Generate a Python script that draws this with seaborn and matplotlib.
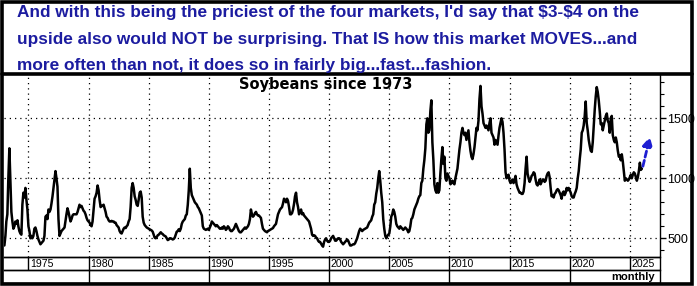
import numpy as np
import pandas as pd
import matplotlib
matplotlib.use("Agg")
import matplotlib.pyplot as plt
import matplotlib.transforms as mtransforms
from matplotlib.patches import Rectangle
from matplotlib.lines import Line2D
import seaborn as sns

# ---------------- data (monthly soybean prices, cents/bushel) ----------------
start_month = "1973-01-01"

prices_1970s = [
    440, 520, 640, 700, 1000, 1250, 980, 720, 640, 580, 600, 640,      # 1973
    620, 650, 600, 560, 540, 530, 780, 880, 840, 920, 820, 740,        # 1974
    600, 560, 500, 520, 500, 520, 580, 590, 560, 520, 490, 470,        # 1975
    450, 460, 470, 480, 520, 680, 690, 660, 740, 720, 740, 790,        # 1976
    850, 920, 990, 1060, 1000, 930, 660, 520, 540, 560, 570, 580,      # 1977
    590, 650, 700, 750, 720, 680, 640, 660, 690, 700, 700, 700,        # 1978
    700, 720, 750, 780, 760, 770, 750, 730, 720, 700, 670, 650,        # 1979
]
prices_1980s = [
    640, 630, 610, 600, 640, 740, 830, 850, 880, 940, 900, 820,        # 1980
    760, 770, 770, 780, 750, 720, 680, 670, 650, 640, 640, 645,        # 1981
    640, 640, 630, 630, 610, 600, 590, 560, 545, 540, 560, 580,        # 1982
    590, 585, 600, 610, 640, 660, 760, 920, 960, 920, 850, 820,        # 1983
    780, 770, 820, 880, 890, 840, 680, 630, 610, 600, 590, 585,        # 1984
    580, 575, 570, 565, 555, 530, 505, 500, 510, 525, 530, 540,        # 1985
    550, 540, 535, 525, 520, 515, 500, 485, 490, 500, 500, 495,        # 1986
    490, 495, 505, 530, 555, 560, 575, 560, 580, 620, 640, 650,        # 1987
    660, 690, 700, 780, 900, 1080, 920, 860, 840, 820, 800, 790,       # 1988
    780, 760, 750, 730, 710, 690, 600, 580, 575, 570, 575, 580,        # 1989
]
prices_1990s = [
    570, 590, 610, 640, 630, 620, 610, 600, 610, 600, 590, 580,        # 1990
    580, 590, 580, 600, 590, 570, 580, 600, 590, 570, 560, 560,        # 1991
    570, 580, 600, 620, 600, 580, 560, 550, 550, 560, 570, 580,        # 1992
    590, 580, 590, 600, 620, 660, 740, 700, 680, 690, 710, 720,        # 1993
    700, 690, 690, 680, 670, 620, 580, 570, 560, 555, 550, 560,        # 1994
    565, 570, 575, 580, 585, 600, 610, 620, 660, 700, 720, 740,        # 1995
    750, 760, 790, 830, 820, 800, 830, 810, 760, 700, 700, 710,        # 1996
    740, 790, 850, 880, 800, 760, 700, 720, 740, 700, 710, 690,        # 1997
    680, 670, 660, 650, 640, 610, 580, 530, 520, 525, 520, 505,        # 1998
    500, 480, 470, 470, 455, 440, 430, 470, 490, 500, 480, 470,        # 1999
]
prices_2000s = [
    470, 480, 500, 510, 520, 500, 480, 480, 490, 500, 500, 490,        # 2000
    470, 460, 450, 460, 470, 480, 490, 480, 460, 440, 440, 445,        # 2001
    450, 450, 460, 480, 500, 530, 560, 580, 570, 560, 570, 575,        # 2002
    580, 585, 590, 610, 630, 640, 650, 680, 700, 780, 800, 870,        # 2003
    920, 1000, 1060, 980, 880, 800, 660, 580, 520, 500, 520, 530,      # 2004
    540, 600, 680, 700, 740, 720, 680, 620, 600, 590, 580, 600,        # 2005
    590, 580, 570, 580, 590, 580, 570, 550, 560, 600, 660, 670,        # 2006
    700, 740, 760, 780, 800, 830, 850, 860, 960, 980, 1080, 1150,      # 2007
    1250, 1450, 1500, 1380, 1400, 1560, 1650, 1300, 1150, 950, 900, 880,  # 2008
    960, 880, 900, 1040, 1160, 1260, 1120, 1180, 1000, 980, 1040, 1020,   # 2009
]
prices_2010s = [
    1000, 950, 960, 980, 960, 950, 1000, 1040, 1080, 1160, 1240, 1300,    # 2010
    1380, 1420, 1380, 1360, 1380, 1320, 1360, 1400, 1300, 1230, 1180, 1160,  # 2011
    1200, 1260, 1340, 1420, 1400, 1480, 1660, 1770, 1600, 1540, 1460, 1440,  # 2012
    1420, 1440, 1420, 1400, 1460, 1500, 1380, 1360, 1340, 1280, 1320, 1300,  # 2013
    1280, 1360, 1420, 1460, 1500, 1470, 1380, 1240, 1050, 1000, 1020, 1030,  # 2014
    980, 960, 970, 990, 960, 980, 1020, 950, 920, 900, 880, 880,          # 2015
    870, 870, 890, 960, 1080, 1180, 1040, 1000, 970, 990, 1020, 1030,     # 2016
    1050, 1040, 990, 950, 940, 960, 990, 950, 970, 990, 990, 970,         # 2017
    980, 1020, 1040, 1050, 1010, 920, 850, 860, 840, 870, 880, 900,       # 2018
    910, 900, 880, 860, 830, 880, 890, 860, 880, 920, 900, 920,           # 2019
]
prices_2020s = [
    900, 880, 850, 840, 840, 870, 890, 920, 1000, 1060, 1160, 1240,       # 2020
    1380, 1400, 1440, 1520, 1640, 1460, 1400, 1320, 1270, 1230, 1220, 1300,  # 2021
    1440, 1580, 1680, 1760, 1720, 1650, 1560, 1450, 1460, 1400, 1440, 1480,  # 2022
    1520, 1540, 1480, 1460, 1380, 1500, 1520, 1360, 1320, 1300, 1340, 1300,  # 2023
    1230, 1180, 1190, 1150, 1200, 1140, 1060, 980, 1000, 990, 980, 990,   # 2024
    1010, 1030, 1000, 1030, 1050, 1040, 1010, 980, 1010, 1060, 1130, 1070,  # 2025
    1080,                                                                  # 2026
]

band_years = [1975, 1980, 1985, 1990, 1995, 2000, 2005, 2010, 2015, 2020, 2025]
decade_years = [1980, 1990, 2000, 2010, 2020]
y_major = [500, 1000, 1500]
y_minor = [400, 600, 700, 800, 900, 1100, 1200, 1300, 1400, 1600, 1700, 1800]
chart_title = "Soybeans since 1973"
frequency_label = "monthly"
note_lines = [
    "And with this being the priciest of the four markets, I'd say that $3-$4 on the",
    "upside also would NOT be surprising. That IS how this market MOVES...and",
    "more often than not, it does so in fairly big...fast...fashion.",
]
arrow_start = ("2026-02-01", 1100)
arrow_end = ("2026-09-01", 1345)

# ---------------- style ----------------
sns.set_style("white")
plt.rcParams["font.family"] = ["Liberation Sans", "DejaVu Sans"]
NOTE_BLUE = "#1c1ca0"
ARROW_BLUE = "#1e1ed2"

W, H = 697, 286
fig = plt.figure(figsize=(W / 100, H / 100), dpi=100)
fig.patch.set_facecolor("white")


def fx(px):
    return px / W


def fy(py):
    return 1 - py / H


values = prices_1970s + prices_1980s + prices_1990s + prices_2000s + prices_2010s + prices_2020s
dates = pd.date_range(start_month, periods=len(values), freq="MS")
df = pd.DataFrame({"date": dates, "price": values})

L, R, T, B = 4, 659.5, 75, 257
xlim = (pd.Timestamp("1972-12-20"), pd.Timestamp("2027-06-20"))

ax = fig.add_axes([fx(L), fy(B), fx(R) - fx(L), fy(T) - fy(B)])
sns.lineplot(data=df, x="date", y="price", ax=ax, color="black", linewidth=1.8)
ax.set_xlim(*xlim)
ax.set_ylim(344, 1861)
ax.set_xlabel("")
ax.set_ylabel("")
ax.set_xticks([])
ax.yaxis.tick_right()
ax.set_yticks(y_major)
ax.set_yticks(y_minor, minor=True)
ax.tick_params(axis="y", which="major", right=True, left=False, length=4, width=1,
               pad=1.5, labelsize=9, direction="out", colors="black")
ax.tick_params(axis="y", which="minor", right=True, left=False, length=3, width=0.8,
               direction="out", colors="black")
for v in y_major:
    ax.axhline(v, color="black", lw=0.9, ls=(0, (1, 3.2)), zorder=0)
for yr in band_years:
    ax.axvline(pd.Timestamp(f"{yr}-01-01"), color="black", lw=0.9, ls=(0, (1, 3.2)), zorder=0)
for s in ["left", "top"]:
    ax.spines[s].set_visible(False)
for s in ["right", "bottom"]:
    ax.spines[s].set_linewidth(1.0)
    ax.spines[s].set_color("black")

ax.annotate("", xy=(pd.Timestamp(arrow_end[0]), arrow_end[1]),
            xytext=(pd.Timestamp(arrow_start[0]), arrow_start[1]),
            arrowprops=dict(arrowstyle="-|>,head_length=0.55,head_width=0.3",
                            color=ARROW_BLUE, lw=2.0, linestyle=(0, (2.2, 1.2)),
                            shrinkA=0, shrinkB=0),
            annotation_clip=False)

# year band
band1 = fig.add_axes([fx(L), fy(270), fx(R) - fx(L), fy(257) - fy(270)])
band2 = fig.add_axes([fx(L), fy(283), fx(R) - fx(L), fy(270) - fy(283)])
for b in (band1, band2):
    b.set_xlim(*xlim)
    b.set_ylim(0, 1)
    b.set_xticks([])
    b.set_yticks([])
    b.spines["left"].set_visible(False)
    for s in ["right", "bottom", "top"]:
        b.spines[s].set_linewidth(1.0)
        b.spines[s].set_color("black")
    b.patch.set_alpha(0)

off = mtransforms.offset_copy(band1.transData, fig=fig, x=1.5, y=0, units="dots")
for yr in band_years:
    d = pd.Timestamp(f"{yr}-01-01")
    band1.axvline(d, color="black", lw=1.0)
    band1.text(d, 0.45, str(yr), transform=off, ha="left", va="center",
               fontsize=7.6, color="black")
for yr in decade_years:
    band2.axvline(pd.Timestamp(f"{yr}-01-01"), color="black", lw=1.0)
band2.text(0.993, 0.45, frequency_label, transform=band2.transAxes, ha="right",
           va="center", fontsize=8, fontweight="bold", color="black")

# title
fig.text(fx(326), fy(84.5), chart_title, ha="center", va="center", fontsize=10.5,
         fontweight="bold", family=["DejaVu Sans"], color="black")

# note text (dollar signs kept literal)
baselines = [17.5, 44, 70]
for line, by in zip(note_lines, baselines):
    fig.text(fx(17), fy(by), line, ha="left", va="baseline", fontsize=12.4,
             fontweight="bold", color=NOTE_BLUE, parse_math=False)

# frame
fig.add_artist(Rectangle((fx(2), fy(283.5)), fx(692) - fx(2), fy(2) - fy(283.5),
                         transform=fig.transFigure, fill=False, ec="black", lw=2.6))
fig.add_artist(Line2D([fx(2), fx(692)], [fy(73.5), fy(73.5)], transform=fig.transFigure,
                      color="black", lw=2.6))

fig.savefig("out.png", dpi=100, facecolor="white")
